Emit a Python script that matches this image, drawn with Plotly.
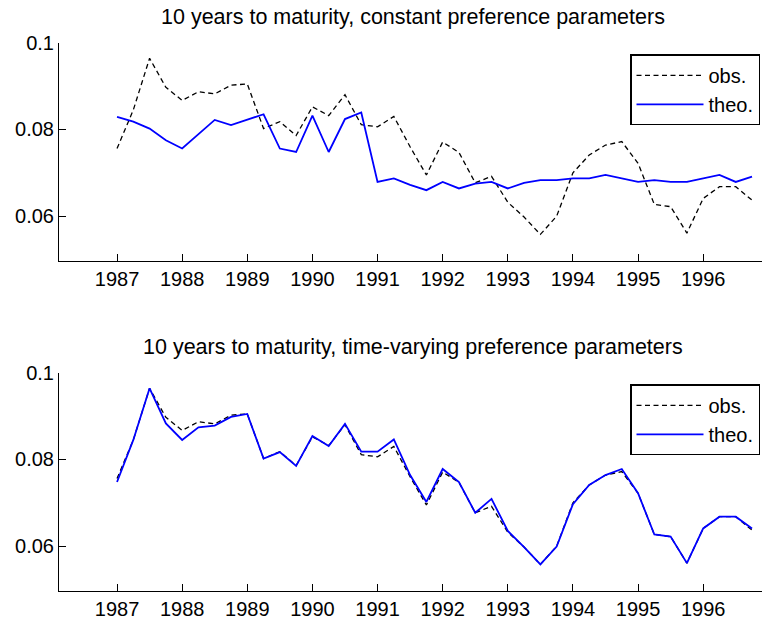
import plotly.graph_objects as go

quarters = [1987 + 0.25 * i for i in range(40)]

obs = [0.0756, 0.0845, 0.0964, 0.0897, 0.0867, 0.0887, 0.0882, 0.0902, 0.0905, 0.0802,
       0.0818, 0.0786, 0.0852, 0.0832, 0.0880, 0.0811, 0.0806, 0.0830, 0.0760, 0.0695,
       0.0771, 0.0747, 0.0677, 0.0692, 0.0632, 0.0598, 0.0558, 0.0600, 0.0700, 0.0741,
       0.0764, 0.0772, 0.0722, 0.0627, 0.0622, 0.0561, 0.0641, 0.0668, 0.0668, 0.0637]

theo_const = [0.0829, 0.0818, 0.0802, 0.0775, 0.0756, 0.0789, 0.0822, 0.0810, 0.0823, 0.0835,
              0.0756, 0.0748, 0.0832, 0.0748, 0.0824, 0.0839, 0.0679, 0.0687, 0.0672, 0.0660,
              0.0679, 0.0664, 0.0675, 0.0679, 0.0664, 0.0677, 0.0683, 0.0683, 0.0687, 0.0687,
              0.0695, 0.0687, 0.0679, 0.0683, 0.0679, 0.0679, 0.0687, 0.0695, 0.0679, 0.0691]

theo_tv = [0.0748, 0.0845, 0.0964, 0.0883, 0.0845, 0.0874, 0.0878, 0.0898, 0.0905, 0.0802,
           0.0817, 0.0785, 0.0854, 0.0831, 0.0882, 0.0818, 0.0818, 0.0846, 0.0764, 0.0702,
           0.0778, 0.0748, 0.0677, 0.0709, 0.0635, 0.0598, 0.0558, 0.0599, 0.0697, 0.0741,
           0.0764, 0.0778, 0.0722, 0.0627, 0.0622, 0.0561, 0.0641, 0.0668, 0.0668, 0.0641]

year_ticks = list(range(1987, 1997))
year_labels = [str(y) for y in year_ticks]
y_ticks = [0.06, 0.08, 0.1]
y_labels = ["0.06", "0.08", "0.1"]

titles = ["10 years to maturity, constant preference parameters",
          "10 years to maturity, time-varying preference parameters"]

W, H = 762, 623
FONT = "Liberation Sans, Arial, Helvetica, sans-serif"

fig = go.Figure()

dash = "5px,3.5px"
for i, (theo, leg) in enumerate([(theo_const, "legend"), (theo_tv, "legend2")]):
    xa = "x" if i == 0 else "x2"
    ya = "y" if i == 0 else "y2"
    fig.add_trace(go.Scatter(x=quarters, y=obs, mode="lines", name="obs.",
                             line=dict(color="black", width=1.3, dash=dash),
                             xaxis=xa, yaxis=ya, legend=leg))
    fig.add_trace(go.Scatter(x=quarters, y=theo, mode="lines", name="theo.",
                             line=dict(color="#0000ff", width=1.8),
                             xaxis=xa, yaxis=ya, legend=leg))

def px2paper(py):
    return 1 - py / H

xr = [1986.109, 1996.903]
yr = [0.0496, 0.1]
axis_common = dict(showgrid=False, zeroline=False, showline=True, linecolor="black",
                   linewidth=1, ticks="inside", ticklen=7, tickcolor="black", tickwidth=1,
                   automargin=False,
                   tickfont=dict(family=FONT, size=20, color="black"))

leg_common = dict(x=(760 - 59) / (W - 59), xanchor="right", yanchor="top",
                  bordercolor="black", borderwidth=1.5, bgcolor="white",
                  font=dict(family=FONT, size=20, color="black"), itemwidth=67)

fig.update_layout(
    template="none",
    width=W, height=H,
    margin=dict(l=59, r=0, t=0, b=0, autoexpand=False),
    paper_bgcolor="white", plot_bgcolor="white",
    font=dict(family=FONT, size=20, color="black"),
    xaxis=dict(domain=[0, 1], range=xr, tickvals=year_ticks, ticktext=year_labels,
               anchor="y", **axis_common),
    yaxis=dict(domain=[px2paper(261.3), px2paper(42.7)], range=yr, tickvals=y_ticks,
               ticktext=y_labels, anchor="x", **axis_common),
    xaxis2=dict(domain=[0, 1], range=xr, tickvals=year_ticks, ticktext=year_labels,
                anchor="y2", **axis_common),
    yaxis2=dict(domain=[px2paper(591.3), px2paper(372.7)], range=yr, tickvals=y_ticks,
                ticktext=y_labels, anchor="x2", **axis_common),
    legend=dict(y=px2paper(54.3), **leg_common),
    legend2=dict(y=px2paper(384.3), **leg_common),
    showlegend=True,
)

for t, cy in zip(titles, [17, 347]):
    fig.add_annotation(text=t, xref="paper", yref="paper", x=(413 - 59) / (W - 59),
                       y=px2paper(cy), xanchor="center", yanchor="middle", showarrow=False,
                       font=dict(family=FONT, size=21.5, color="black"))

fig.write_html("out.html")
